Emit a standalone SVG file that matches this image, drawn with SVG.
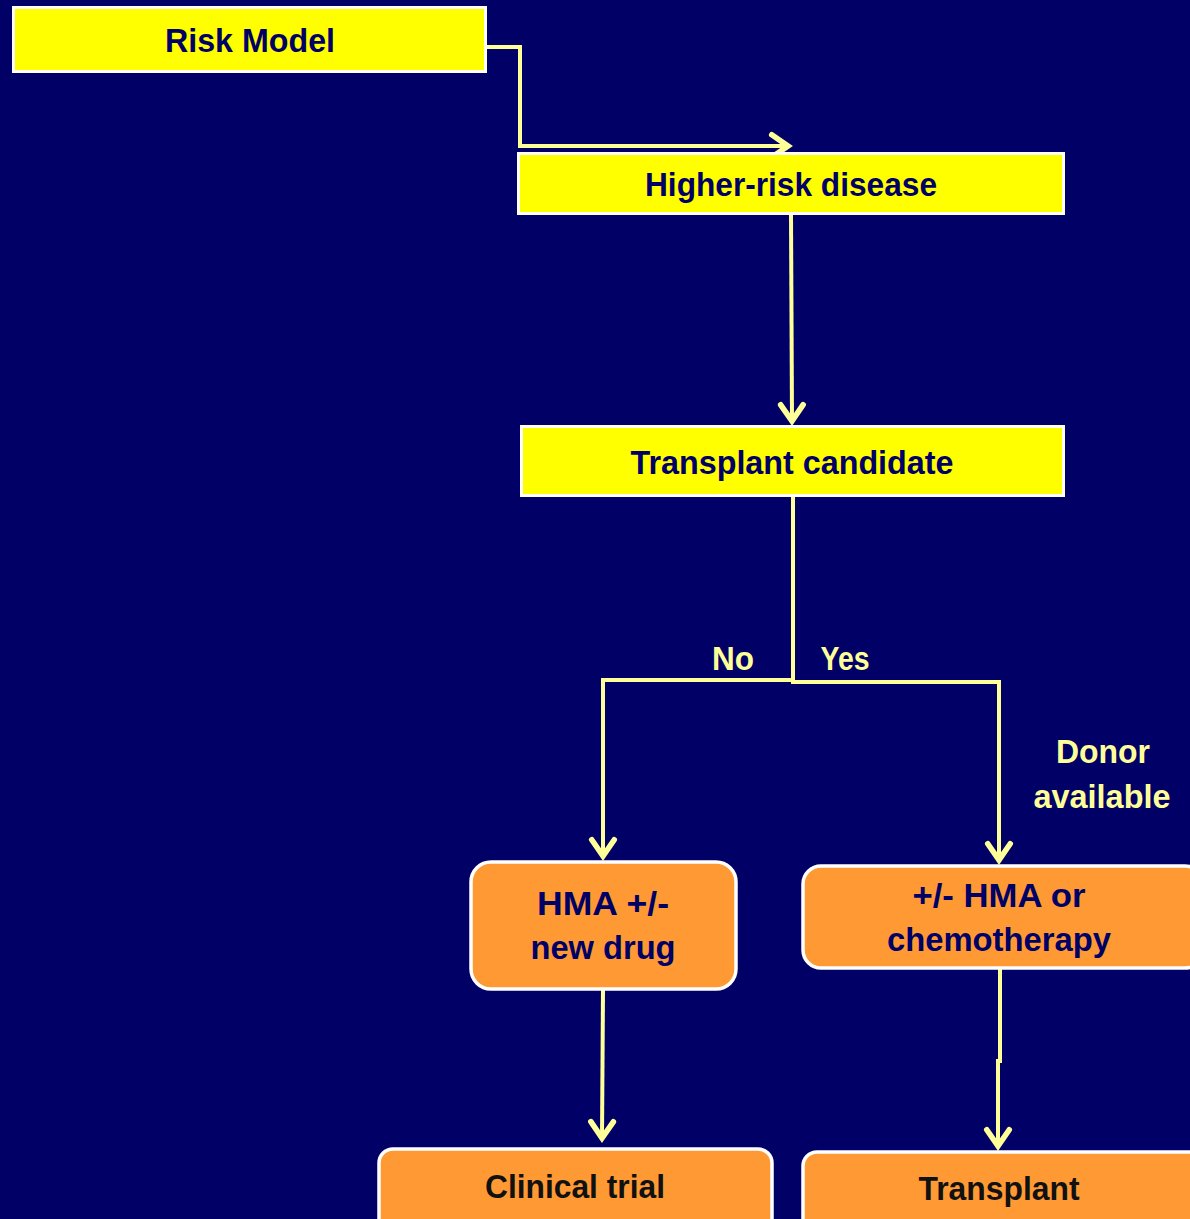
<svg xmlns="http://www.w3.org/2000/svg" width="1190" height="1219" viewBox="0 0 1190 1219">
<style>
.bg{fill:#000066}
.ybox{fill:#FFFF00;stroke:#FFFFFF;stroke-width:3}
.obox{fill:#FF9933;stroke:#FFFFFF;stroke-width:3.5}
.t{font-family:"Liberation Sans",Arial,sans-serif;font-weight:bold;font-size:33px;fill:#000066;text-anchor:middle}
.tk{fill:#111111}
.lbl{font-family:"Liberation Sans",Arial,sans-serif;font-weight:bold;font-size:33px;fill:#FFFF99;text-anchor:middle}
.c{fill:none;stroke:#FFFF99;stroke-width:4}
</style>
<defs>
<marker id="arr" markerUnits="userSpaceOnUse" markerWidth="30" markerHeight="30" viewBox="-16 -12 20 24" refX="0" refY="0" orient="auto">
<path d="M-13,-9 L0,0 L-13,9" fill="none" stroke="#FFFF99" stroke-width="4.5" stroke-linecap="round" stroke-linejoin="miter"/>
</marker>
</defs>
<rect class="bg" x="0" y="0" width="1190" height="1219"/>
<g id="connectors">
<path class="c" d="M487,47 L520,47 L520,146 L788,146" marker-end="url(#arr)"/>
<path class="c" d="M791,215 L792,421" marker-end="url(#arr)"/>
<path class="c" d="M793,497 L793,680 L603,680 L603,856" marker-end="url(#arr)"/>
<path class="c" d="M791,682 L999,682 L999,860" marker-end="url(#arr)"/>
<path class="c" d="M603,990 L602,1138" marker-end="url(#arr)"/>
<path class="c" d="M1000,969 L1000,1061 L998,1061 L998,1146" marker-end="url(#arr)"/>
</g>
<g id="risk-model">
<rect class="ybox" x="13.5" y="7.5" width="472" height="64"/>
<text class="t" x="250" y="52" textLength="170" lengthAdjust="spacingAndGlyphs">Risk Model</text>
</g>
<g id="higher-risk">
<rect class="ybox" x="518.5" y="153.5" width="545" height="60"/>
<text class="t" x="791" y="196" textLength="292" lengthAdjust="spacingAndGlyphs">Higher-risk disease</text>
</g>
<g id="transplant-candidate">
<rect class="ybox" x="521.5" y="426.5" width="542" height="69"/>
<text class="t" x="792" y="474" textLength="323" lengthAdjust="spacingAndGlyphs">Transplant candidate</text>
</g>
<g id="label-no"><text class="lbl" x="733" y="670" textLength="42" lengthAdjust="spacingAndGlyphs">No</text></g>
<g id="label-yes"><text class="lbl" x="845" y="670" textLength="49" lengthAdjust="spacingAndGlyphs">Yes</text></g>
<g id="label-donor">
<text class="lbl" x="1103" y="763" textLength="94" lengthAdjust="spacingAndGlyphs">Donor</text>
<text class="lbl" x="1102" y="808" textLength="137" lengthAdjust="spacingAndGlyphs">available</text>
</g>
<g id="hma-new-drug">
<rect class="obox" x="471" y="862" width="265" height="127" rx="20"/>
<text class="t" x="603" y="915" textLength="132" lengthAdjust="spacingAndGlyphs">HMA +/-</text>
<text class="t" x="603" y="959" textLength="145" lengthAdjust="spacingAndGlyphs">new drug</text>
</g>
<g id="hma-chemo">
<rect class="obox" x="803" y="866" width="400" height="102" rx="18"/>
<text class="t" x="999" y="907" textLength="173" lengthAdjust="spacingAndGlyphs">+/- HMA or</text>
<text class="t" x="999" y="951" textLength="224" lengthAdjust="spacingAndGlyphs">chemotherapy</text>
</g>
<g id="clinical-trial">
<rect class="obox" x="379" y="1149" width="393" height="90" rx="14"/>
<text class="t tk" x="575" y="1198" textLength="180" lengthAdjust="spacingAndGlyphs">Clinical trial</text>
</g>
<g id="transplant">
<rect class="obox" x="803" y="1152" width="400" height="90" rx="14"/>
<text class="t tk" x="999" y="1200" textLength="161" lengthAdjust="spacingAndGlyphs">Transplant</text>
</g>
</svg>
